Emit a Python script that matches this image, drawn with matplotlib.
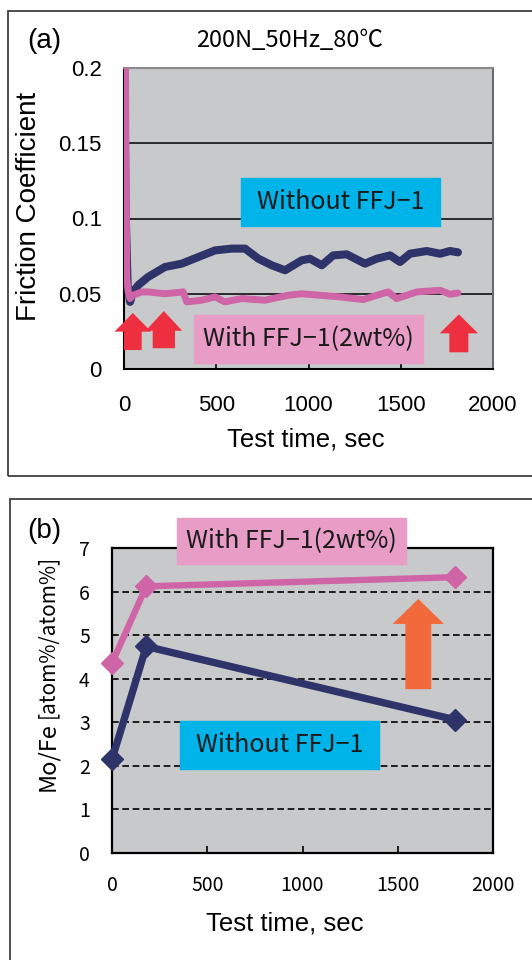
import matplotlib
matplotlib.use("Agg")
from matplotlib import pyplot as plt
from matplotlib.patches import Rectangle, FancyArrow

# (a) friction coefficient vs test time
time_without = [0, 10, 20, 33, 49, 78, 130, 222, 313, 403, 493, 584, 656, 728, 801,
                873, 963, 1008, 1072, 1134, 1207, 1306, 1370, 1442, 1496, 1550,
                1641, 1713, 1767, 1810]
mu_without = [0.20, 0.10, 0.055, 0.0446, 0.0513, 0.0558, 0.0611, 0.0678, 0.070,
              0.0744, 0.0788, 0.080, 0.080, 0.0733, 0.0689, 0.0656, 0.0722, 0.0733,
              0.0689, 0.0755, 0.0762, 0.070, 0.0733, 0.0755, 0.0711, 0.0766,
              0.0784, 0.0766, 0.0784, 0.0775]

time_with = [0, 8, 15, 25, 33, 49, 96, 130, 222, 321, 340, 421, 493, 547, 638, 764,
             891, 963, 1062, 1171, 1297, 1370, 1432, 1478, 1586, 1713, 1767, 1810]
mu_with = [0.25, 0.20, 0.060, 0.050, 0.0468, 0.049, 0.0512, 0.0512, 0.050, 0.0512,
           0.0446, 0.0457, 0.0479, 0.0446, 0.0468, 0.0457, 0.049, 0.050, 0.049,
           0.0479, 0.0461, 0.049, 0.0512, 0.0468, 0.0512, 0.0523, 0.0497, 0.0505]

# (b) Mo/Fe ratio
time_b = [0, 180, 1800]
mofe_without = [2.15, 4.74, 3.06]
mofe_with = [4.36, 6.12, 6.33]

yticks_a = [0, 0.05, 0.1, 0.15, 0.2]
yticklabels_a = ["0", "0.05", "0.1", "0.15", "0.2"]
yticks_b = [0, 1, 2, 3, 4, 5, 6, 7]
xticks = [0, 500, 1000, 1500, 2000]

NAVY = "#2e3369"
PINK = "#cf64a6"
GRAY = "#c8c9cb"
CYAN = "#00b3e9"
PINKBOX = "#e79dc6"
RED = "#ee2f3f"
ORANGE = "#f2693b"
JP = ["Noto Sans CJK JP", "DejaVu Sans"]
ARIAL = "Liberation Sans"

W, H = 532, 960


def fx(x):
    return x / W


def fy(y):
    return 1 - y / H


fig = plt.figure(figsize=(5.32, 9.6), dpi=100)

# outer frames
fig.add_artist(Rectangle((fx(8), fy(476)), 1.2, (476 - 11) / H, transform=fig.transFigure,
                         fill=False, edgecolor="#404040", lw=1.3))
fig.add_artist(Rectangle((fx(10), -0.1), 1.2, fy(499) + 0.1, transform=fig.transFigure,
                         fill=False, edgecolor="#404040", lw=1.3))

# ---------- panel (a)
ax1 = fig.add_axes([fx(124), fy(369), (493 - 124) / W, (369 - 68) / H])
ax1.set_facecolor(GRAY)
ax1.set_xlim(0, 2000)
ax1.set_ylim(0, 0.2)
for y in yticks_a[1:-1]:
    ax1.axhline(y, color="black", lw=1.1, zorder=1)
ax1.plot(time_without, mu_without, color=NAVY, lw=5.8, solid_capstyle="round",
         solid_joinstyle="round", zorder=3)
ax1.plot(time_with, mu_with, color=PINK, lw=5.0, solid_capstyle="round",
         solid_joinstyle="round", zorder=4)
ax1.set_xticks(xticks)
ax1.set_yticks(yticks_a)
ax1.set_yticklabels(yticklabels_a)
ax1.tick_params(axis="x", direction="in", length=5, width=1.2, pad=19, labelsize=16)
ax1.tick_params(axis="y", length=0, pad=16, labelsize=16)
for lab in ax1.get_xticklabels() + ax1.get_yticklabels():
    lab.set_fontfamily(ARIAL)
ax1.spines["left"].set_linewidth(1.5)
ax1.spines["bottom"].set_linewidth(1.5)
ax1.spines["top"].set_color("#8a8a8a")
ax1.spines["top"].set_linewidth(1.5)
ax1.spines["right"].set_color("#6a6a6a")
ax1.spines["right"].set_linewidth(1.5)

# annotation boxes
ax1.add_patch(Rectangle((634, 0.0952), 1713 - 634, 0.1267 - 0.0952, color=CYAN, zorder=5))
ax1.text((634 + 1713) / 2, (0.0952 + 0.1267) / 2, "Without FFJ\u22121", family=JP,
         fontsize=18, ha="center", va="center", color="#1a1a1a", zorder=6)
ax1.add_patch(Rectangle((379, 0.0042), 1619 - 379, 0.0359 - 0.0042, color=PINKBOX, zorder=5))
ax1.text((379 + 1619) / 2, (0.0042 + 0.0359) / 2, "With FFJ\u22121(2wt%)", family=JP,
         fontsize=18, ha="center", va="center", color="#1a1a1a", zorder=6)

# red arrows
for xc, y0, y1, shaft, head, hl in [(48, 0.0126, 0.0372, 96, 199, 0.0124),
                                    (216, 0.0138, 0.0385, 121, 198, 0.0131),
                                    (1815, 0.0111, 0.0363, 103, 208, 0.0126)]:
    ax1.add_patch(FancyArrow(xc, y0, 0, y1 - y0, width=shaft, head_width=head,
                             head_length=hl, length_includes_head=True, color=RED,
                             lw=0, clip_on=False, zorder=6))

fig.text(fx(44), fy(41), "(a)", fontsize=20, family=ARIAL, ha="center", va="center")
fig.text(fx(290), fy(41), "200N_50Hz_80\u2103", fontsize=17, family=JP,
         ha="center", va="center")
fig.text(fx(29), fy(206), "Friction Coefficient", fontsize=20, family=ARIAL,
         rotation=90, ha="center", va="center")
fig.text(fx(306), fy(440), "Test time, sec", fontsize=18.5, family=ARIAL,
         ha="center", va="center")

# ---------- panel (b)
ax2 = fig.add_axes([fx(112), fy(853), (493 - 112) / W, (853 - 548) / H])
ax2.set_facecolor(GRAY)
ax2.set_xlim(0, 2000)
ax2.set_ylim(0, 7)
for y in yticks_b[1:-1]:
    ax2.axhline(y, color="black", lw=1.2, ls=(0, (4, 2.2)), zorder=1)
ax2.plot(time_b, mofe_with, color=PINK, lw=4.6, marker="D", ms=11.5,
         solid_joinstyle="miter", zorder=3, clip_on=False)
ax2.plot(time_b, mofe_without, color=NAVY, lw=5.3, marker="D", ms=11.5,
         solid_joinstyle="miter", zorder=4, clip_on=False)
ax2.set_xticks(xticks)
ax2.set_yticks(yticks_b)
ax2.tick_params(axis="x", direction="in", length=5, width=1.2, pad=16, labelsize=14)
ax2.tick_params(axis="y", length=0, pad=16, labelsize=14)
for lab in ax2.get_xticklabels() + ax2.get_yticklabels():
    lab.set_fontfamily(JP)
for s in ax2.spines.values():
    s.set_linewidth(1.6)

ax2.add_patch(Rectangle((341, 6.63), 1544 - 341, 7.70 - 6.63, color=PINKBOX,
                        zorder=5, clip_on=False))
ax2.text((341 + 1544) / 2, (6.63 + 7.70) / 2, "With FFJ\u22121(2wt%)", family=JP,
         fontsize=18, ha="center", va="center", color="#1a1a1a", zorder=6)
ax2.add_patch(Rectangle((356, 1.93), 1402 - 356, 3.02 - 1.93, color=CYAN, zorder=5))
ax2.text((356 + 1402) / 2, (1.93 + 3.02) / 2, "Without FFJ\u22121", family=JP,
         fontsize=18, ha="center", va="center", color="#1a1a1a", zorder=6)
ax2.add_patch(FancyArrow(1608, 3.76, 0, 5.83 - 3.76, width=136, head_width=269,
                         head_length=0.573, length_includes_head=True, color=ORANGE,
                         lw=0, zorder=6))

fig.text(fx(44), fy(531), "(b)", fontsize=20, family=ARIAL, ha="center", va="center")
fig.text(fx(47.5), fy(757), "Mo/Fe", fontsize=17, family=JP, rotation=90,
         ha="center", va="center")
fig.text(fx(47.5), fy(636), "[atom%/atom%]", fontsize=15, family=JP, rotation=90,
         ha="center", va="center")
fig.text(fx(285), fy(923), "Test time, sec", fontsize=18.5, family=ARIAL,
         ha="center", va="center")

fig.savefig("out.png", dpi=100)
